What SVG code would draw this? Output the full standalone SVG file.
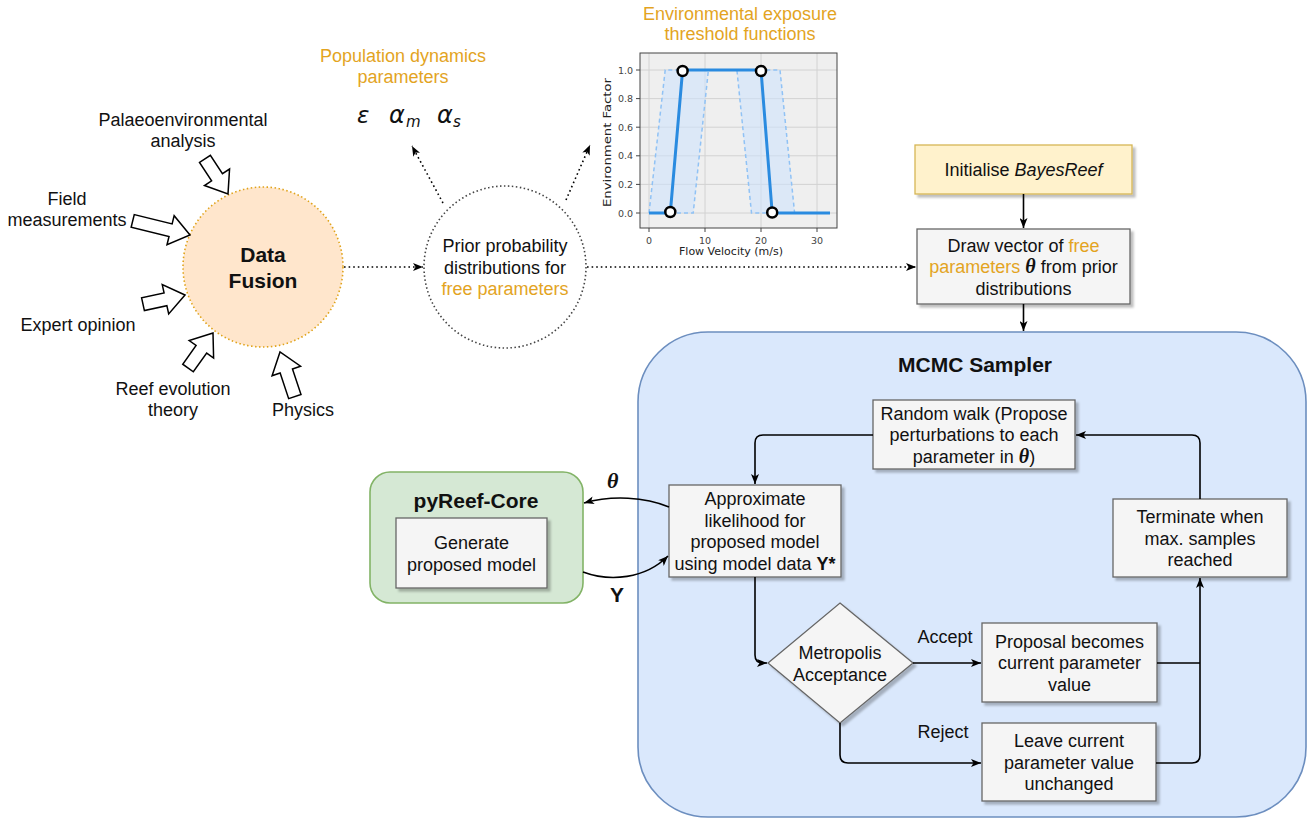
<svg xmlns="http://www.w3.org/2000/svg" width="1311" height="821" viewBox="0 0 1311 821">
<defs>
<style>
.t{font-family:"Liberation Sans",Arial,Helvetica,sans-serif;font-size:18px;fill:#111;text-anchor:middle}
.b{font-weight:bold}
.or{fill:#e3a41f}
.box{fill:#f5f5f5;stroke:#666;stroke-width:1.3}
.sh{filter:url(#shadow)}
.dot{fill:none;stroke:#000;stroke-width:1.6;stroke-dasharray:1.6 3}
.ln{fill:none;stroke:#000;stroke-width:1.6}
.ba{fill:#fff;stroke:#000;stroke-width:1.5;stroke-linejoin:miter}
.ct{font-family:"DejaVu Sans",Verdana,sans-serif;font-size:9.5px;fill:#444}
.cl{font-family:"DejaVu Sans",Verdana,sans-serif;font-size:11px;fill:#222;text-anchor:middle}
.m{font-family:"Liberation Serif","DejaVu Serif",serif;font-style:italic}
.gk{font-family:"DejaVu Sans",sans-serif;font-style:italic;fill:#111}
.grid{stroke:#d2d2d2;stroke-width:1}
</style>
<filter id="shadow" x="-10%" y="-10%" width="130%" height="130%">
<feDropShadow dx="3" dy="3" stdDeviation="1.2" flood-color="#000" flood-opacity="0.25"/>
</filter>
<marker id="arr" viewBox="0 0 10 8" refX="10" refY="4" markerWidth="10" markerHeight="8" markerUnits="userSpaceOnUse" orient="auto">
<path d="M0,0 L10,4 L0,8 L2.5,4 Z" fill="#000"/>
</marker>
</defs>
<rect width="1311" height="821" fill="#fff"/>

<!-- Data Fusion -->
<g id="data-fusion">
<circle cx="263" cy="267" r="80" fill="#ffe6cc" stroke="#e0a31a" stroke-width="1.6" stroke-dasharray="1.5 2.5"/>
<text class="t b" style="font-size:21px" x="263" y="262">Data</text>
<text class="t b" style="font-size:21px" x="263" y="288">Fusion</text>
</g>

<!-- input block arrows -->
<g id="in-palaeo">
<polygon class="ba" transform="translate(228,194) rotate(56.7)" points="0,0 -20,-15 -20,-6.5 -42,-6.5 -42,6.5 -20,6.5 -20,15"/>
<text class="t" x="183" y="126">Palaeoenvironmental</text>
<text class="t" x="183" y="147">analysis</text>
</g>
<g id="in-field">
<polygon class="ba" transform="translate(190,235) rotate(13.8)" points="0,0 -20,-15 -20,-6.5 -59,-6.5 -59,6.5 -20,6.5 -20,15"/>
<text class="t" x="67" y="205">Field</text>
<text class="t" x="67" y="226">measurements</text>
</g>
<g id="in-expert">
<polygon class="ba" transform="translate(185,295) rotate(-12.4)" points="0,0 -20,-15 -20,-6.5 -43,-6.5 -43,6.5 -20,6.5 -20,15"/>
<text class="t" x="78" y="331">Expert opinion</text>
</g>
<g id="in-reef">
<polygon class="ba" transform="translate(213,333) rotate(-54.5)" points="0,0 -20,-15 -20,-6.5 -43,-6.5 -43,6.5 -20,6.5 -20,15"/>
<text class="t" x="173" y="395">Reef evolution</text>
<text class="t" x="173" y="416">theory</text>
</g>
<g id="in-physics">
<polygon class="ba" transform="translate(280,352) rotate(-108.4)" points="0,0 -20,-15 -20,-6.5 -47,-6.5 -47,6.5 -20,6.5 -20,15"/>
<text class="t" x="303" y="416">Physics</text>
</g>

<!-- Prior -->
<g id="prior">
<circle cx="505" cy="267" r="81" fill="#fff" stroke="#444" stroke-width="1.6" stroke-dasharray="1.5 2.5"/>
<text class="t" x="505" y="252">Prior probability</text>
<text class="t" x="505" y="273.5">distributions for</text>
<text class="t or" x="505" y="295">free parameters</text>
</g>

<!-- Population dynamics parameters -->
<g id="pop-params">
<text class="t or" x="403" y="62">Population dynamics</text>
<text class="t or" x="403" y="83">parameters</text>
<text class="gk" style="font-size:23px" x="357" y="123">ε</text>
<text class="gk" style="font-size:24px" x="389" y="123">α</text>
<text class="gk" style="font-size:15px" x="406" y="127">m</text>
<text class="gk" style="font-size:24px" x="437" y="123">α</text>
<text class="gk" style="font-size:15px" x="453" y="127">s</text>
</g>

<!-- Chart -->
<g id="chart">
<text class="t or" x="740" y="20">Environmental exposure</text>
<text class="t or" x="740" y="40">threshold functions</text>
<rect x="640" y="53" width="197" height="175" fill="#efefef"/>
<g class="grid">
<line x1="640" y1="213" x2="837" y2="213"/>
<line x1="640" y1="184.4" x2="837" y2="184.4"/>
<line x1="640" y1="155.8" x2="837" y2="155.8"/>
<line x1="640" y1="127.2" x2="837" y2="127.2"/>
<line x1="640" y1="98.6" x2="837" y2="98.6"/>
<line x1="640" y1="70" x2="837" y2="70"/>
<line x1="649" y1="53" x2="649" y2="228"/>
<line x1="705" y1="53" x2="705" y2="228"/>
<line x1="761" y1="53" x2="761" y2="228"/>
<line x1="817" y1="53" x2="817" y2="228"/>
</g>
<polygon points="649,213 665.2,70 780,70 794.6,213 751.5,213 736.9,70 708.4,70 693.2,213" fill="#cfe3fb" fill-opacity="0.6"/>
<polyline points="649,213 665.2,70 780,70 794.6,213 830,213" fill="none" stroke="#90c2f5" stroke-width="1.5" stroke-dasharray="4 3"/>
<polyline points="649,213 693.2,213 708.4,70 736.9,70 751.5,213 830,213" fill="none" stroke="#90c2f5" stroke-width="1.5" stroke-dasharray="4 3"/>
<polyline points="649,213 670.3,213 682.6,70 761,70 772.2,213 830,213" fill="none" stroke="#2a8be0" stroke-width="3"/>
<g fill="#fff" stroke="#000" stroke-width="2.5">
<circle cx="670.3" cy="212" r="5"/>
<circle cx="682.6" cy="71" r="5"/>
<circle cx="761" cy="71" r="5"/>
<circle cx="772.2" cy="212.5" r="5"/>
</g>
<rect x="640" y="53" width="197" height="175" fill="none" stroke="#444" stroke-width="1"/>
<g stroke="#444" stroke-width="1">
<line x1="636" y1="213" x2="640" y2="213"/>
<line x1="636" y1="184.4" x2="640" y2="184.4"/>
<line x1="636" y1="155.8" x2="640" y2="155.8"/>
<line x1="636" y1="127.2" x2="640" y2="127.2"/>
<line x1="636" y1="98.6" x2="640" y2="98.6"/>
<line x1="636" y1="70" x2="640" y2="70"/>
<line x1="649" y1="228" x2="649" y2="232"/>
<line x1="705" y1="228" x2="705" y2="232"/>
<line x1="761" y1="228" x2="761" y2="232"/>
<line x1="817" y1="228" x2="817" y2="232"/>
</g>
<g class="ct" text-anchor="end">
<text x="633" y="216.5">0.0</text>
<text x="633" y="187.9">0.2</text>
<text x="633" y="159.3">0.4</text>
<text x="633" y="130.7">0.6</text>
<text x="633" y="102.1">0.8</text>
<text x="633" y="73.5">1.0</text>
</g>
<g class="ct" text-anchor="middle">
<text x="649" y="244">0</text>
<text x="705" y="244">10</text>
<text x="761" y="244">20</text>
<text x="817" y="244">30</text>
</g>
<text class="cl" x="731" y="255">Flow Velocity (m/s)</text>
<text class="cl" transform="translate(611,142.5) rotate(-90)" x="0" y="0" textLength="129" lengthAdjust="spacingAndGlyphs">Environment Factor</text>
</g>

<!-- Init -->
<g id="init">
<rect class="sh" x="915" y="145" width="217" height="49" fill="#fff2cc" stroke="#d6b656" stroke-width="1.3"/>
<text class="t" x="1023.5" y="176">Initialise <tspan font-style="italic">BayesReef</tspan></text>
</g>

<!-- Draw vector -->
<g id="draw-vector">
<rect class="box sh" x="917" y="229" width="213" height="75"/>
<text class="t" x="1023.5" y="251.5">Draw vector of <tspan class="or">free</tspan></text>
<text class="t" x="1023.5" y="273"><tspan class="or">parameters </tspan><tspan class="m b" style="font-size:20px">θ</tspan> from prior</text>
<text class="t" x="1023.5" y="294.5">distributions</text>
</g>

<!-- MCMC container -->
<g id="mcmc">
<rect x="638" y="332" width="668" height="485" rx="70" ry="70" fill="#dae8fc" stroke="#6c8ebf" stroke-width="1.6"/>
<text class="t b" style="font-size:21px" x="975" y="372">MCMC Sampler</text>
</g>

<!-- pyReef-Core -->
<g id="pyreef">
<rect x="370" y="472" width="213" height="131" rx="20" ry="20" fill="#d5e8d4" stroke="#82b366" stroke-width="1.6"/>
<text class="t b" style="font-size:21px" x="476" y="508">pyReef-Core</text>
</g>
<g id="generate">
<rect class="box sh" x="396" y="518" width="151" height="70"/>
<text class="t" x="471.5" y="549">Generate</text>
<text class="t" x="471.5" y="570.5">proposed model</text>
</g>

<g id="random-walk">
<rect class="box sh" x="873" y="400" width="202" height="69"/>
<text class="t" x="974" y="419.5">Random walk (Propose</text>
<text class="t" x="974" y="441">perturbations to each</text>
<text class="t" x="974" y="462.5">parameter in <tspan class="m b" style="font-size:20px">θ</tspan>)</text>
</g>

<g id="approx">
<rect class="box sh" x="669" y="485" width="172" height="92"/>
<text class="t" x="755" y="505">Approximate</text>
<text class="t" x="755" y="526.5">likelihood for</text>
<text class="t" x="755" y="548">proposed model</text>
<text class="t" x="755" y="569.5">using model data <tspan class="b">Y*</tspan></text>
</g>

<g id="terminate">
<rect class="box sh" x="1113" y="499" width="174" height="78"/>
<text class="t" x="1200" y="523">Terminate when</text>
<text class="t" x="1200" y="544.5">max. samples</text>
<text class="t" x="1200" y="566">reached</text>
</g>

<g id="metropolis">
<polygon class="box sh" points="840,603 913,663 840,723 768,663"/>
<text class="t" x="840" y="659">Metropolis</text>
<text class="t" x="840" y="680.5">Acceptance</text>
</g>

<g id="proposal">
<rect class="box sh" x="982" y="623" width="175" height="79"/>
<text class="t" x="1069.5" y="647.5">Proposal becomes</text>
<text class="t" x="1069.5" y="669">current parameter</text>
<text class="t" x="1069.5" y="690.5">value</text>
</g>

<g id="leave">
<rect class="box sh" x="982" y="723" width="174" height="78"/>
<text class="t" x="1069" y="747">Leave current</text>
<text class="t" x="1069" y="768.5">parameter value</text>
<text class="t" x="1069" y="790">unchanged</text>
</g>

<!-- connectors -->
<g id="connectors">
<path class="dot" d="M344,267 H423" marker-end="url(#arr)"/>
<path class="dot" d="M587,267 H916" marker-end="url(#arr)"/>
<path class="dot" d="M443,203 L412,146" marker-end="url(#arr)"/>
<path class="dot" d="M566,200 L590,145" marker-end="url(#arr)"/>
<path class="ln" d="M1023.5,194 V228" marker-end="url(#arr)"/>
<path class="ln" d="M1023.5,304 V331" marker-end="url(#arr)"/>
<path class="ln" d="M873,435 H763 Q755,435 755,443 V484" marker-end="url(#arr)"/>
<path class="ln" d="M755,577 V655 Q755,663 763,663 H767" marker-end="url(#arr)"/>
<path class="ln" d="M913,663 H981" marker-end="url(#arr)"/>
<path class="ln" d="M840,723 V755 Q840,763 848,763 H981" marker-end="url(#arr)"/>
<path class="ln" d="M1157,663 H1200"/>
<path class="ln" d="M1156,763 H1192 Q1200,763 1200,755 V578" marker-end="url(#arr)"/>
<path class="ln" d="M1200,499 V443 Q1200,435 1192,435 H1076" marker-end="url(#arr)"/>
<path class="ln" d="M669,507 C645,497 612,495 584,503" marker-end="url(#arr)"/>
<path class="ln" d="M583,572 C610,582 645,579 668,556" marker-end="url(#arr)"/>
<text class="m b" style="font-size:22px;fill:#111" x="607" y="488">θ</text>
<text class="t b" style="font-size:21px" x="617" y="602">Y</text>
<text class="t" x="945" y="643">Accept</text>
<text class="t" x="943" y="738">Reject</text>
</g>
</svg>
